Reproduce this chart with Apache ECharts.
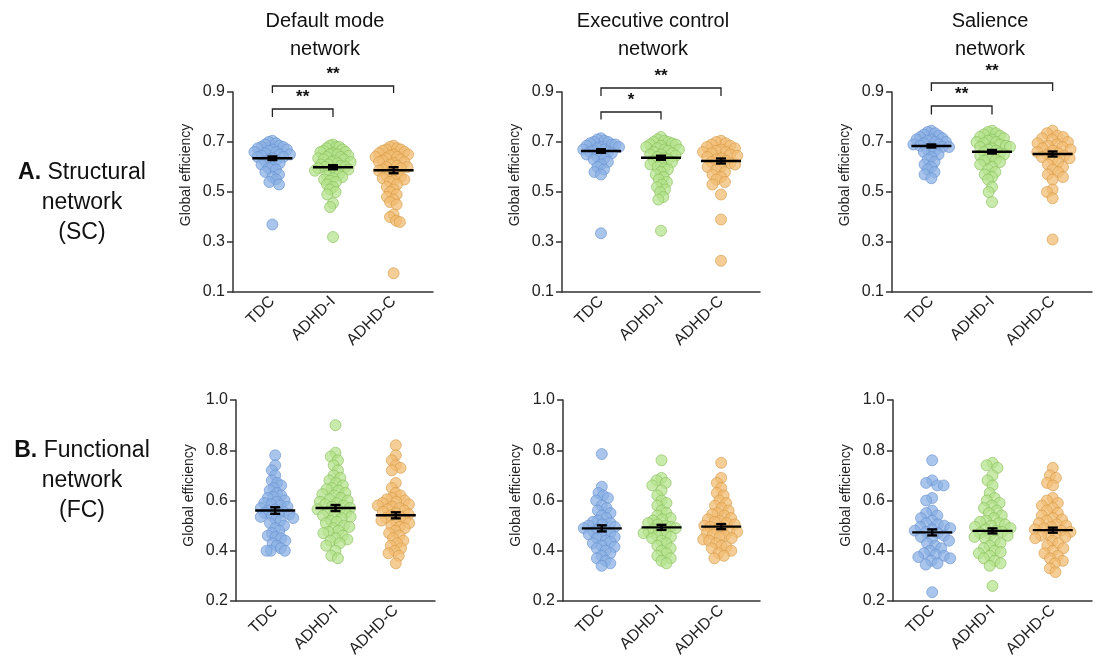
<!DOCTYPE html>
<html>
<head>
<meta charset="utf-8">
<script src="https://cdn.jsdelivr.net/npm/echarts@6/dist/echarts.min.js"></script>
<style>html,body{margin:0;padding:0;background:#fff}#c{width:1101px;height:662px}</style>
</head>
<body>
<div id="c"></div>
<script>
// ---------------- DATA ----------------
const categories = ['TDC', 'ADHD-I', 'ADHD-C'];
const networkTitles = ['Default mode\nnetwork', 'Executive control\nnetwork', 'Salience\nnetwork'];
const topTicks = [0.1, 0.3, 0.5, 0.7, 0.9];
const bottomTicks = [0.2, 0.4, 0.6, 0.8, 1.0];

// Structural (SC)
const dmnSC_TDC = [0.705,0.70,0.695,0.69,0.685,0.68,0.68,0.675,0.67,0.67,0.665,0.66,0.66,0.655,0.65,0.65,0.645,0.64,0.64,0.635,0.63,0.625,0.62,0.615,0.61,0.60,0.595,0.59,0.58,0.57,0.56,0.55,0.54,0.53,0.37];
const dmnSC_I = [0.69,0.685,0.68,0.68,0.675,0.67,0.665,0.66,0.66,0.655,0.65,0.65,0.645,0.64,0.64,0.635,0.63,0.63,0.625,0.62,0.62,0.615,0.61,0.61,0.605,0.60,0.60,0.595,0.59,0.59,0.585,0.58,0.575,0.57,0.565,0.56,0.555,0.55,0.545,0.54,0.53,0.52,0.51,0.50,0.49,0.455,0.44,0.32];
const dmnSC_C = [0.685,0.68,0.675,0.67,0.67,0.665,0.66,0.655,0.65,0.65,0.645,0.64,0.64,0.635,0.63,0.625,0.62,0.62,0.615,0.61,0.605,0.60,0.60,0.595,0.59,0.585,0.58,0.575,0.57,0.565,0.56,0.555,0.55,0.545,0.54,0.53,0.52,0.51,0.50,0.49,0.48,0.47,0.46,0.45,0.41,0.40,0.385,0.38,0.175];
const ecnSC_TDC = [0.715,0.71,0.705,0.70,0.70,0.695,0.69,0.69,0.685,0.68,0.68,0.675,0.67,0.67,0.665,0.66,0.66,0.655,0.65,0.645,0.64,0.635,0.63,0.62,0.61,0.60,0.59,0.58,0.57,0.335];
const ecnSC_I = [0.72,0.71,0.705,0.70,0.70,0.695,0.69,0.69,0.685,0.68,0.675,0.67,0.67,0.665,0.66,0.655,0.65,0.65,0.645,0.64,0.635,0.63,0.625,0.62,0.615,0.61,0.60,0.595,0.59,0.58,0.57,0.56,0.55,0.54,0.53,0.52,0.51,0.50,0.48,0.47,0.345];
const ecnSC_C = [0.705,0.70,0.695,0.69,0.685,0.68,0.675,0.67,0.665,0.66,0.66,0.655,0.65,0.645,0.64,0.635,0.63,0.625,0.62,0.615,0.61,0.60,0.60,0.59,0.58,0.57,0.56,0.55,0.54,0.53,0.49,0.39,0.225];
const snSC_TDC = [0.745,0.74,0.735,0.73,0.725,0.72,0.715,0.71,0.71,0.705,0.70,0.70,0.695,0.69,0.69,0.685,0.68,0.68,0.675,0.67,0.665,0.66,0.65,0.64,0.63,0.62,0.61,0.60,0.59,0.58,0.57,0.555];
const snSC_I = [0.745,0.74,0.735,0.73,0.725,0.72,0.715,0.71,0.705,0.70,0.70,0.695,0.69,0.685,0.68,0.68,0.675,0.67,0.665,0.66,0.655,0.65,0.645,0.64,0.635,0.63,0.625,0.62,0.61,0.60,0.59,0.58,0.57,0.56,0.55,0.52,0.50,0.46];
const snSC_C = [0.745,0.735,0.725,0.72,0.715,0.71,0.70,0.695,0.69,0.685,0.68,0.675,0.67,0.665,0.66,0.655,0.65,0.645,0.64,0.635,0.63,0.62,0.61,0.60,0.59,0.58,0.57,0.56,0.55,0.51,0.50,0.475,0.31];

// Functional (FC)
const dmnFC_TDC = [0.78,0.74,0.72,0.70,0.68,0.67,0.66,0.65,0.64,0.63,0.62,0.615,0.61,0.60,0.595,0.59,0.585,0.58,0.575,0.57,0.565,0.56,0.555,0.55,0.55,0.545,0.54,0.535,0.53,0.525,0.52,0.51,0.50,0.49,0.48,0.47,0.46,0.455,0.45,0.44,0.43,0.42,0.41,0.40,0.40,0.40];
const dmnFC_I = [0.90,0.79,0.775,0.76,0.74,0.72,0.70,0.69,0.68,0.67,0.66,0.65,0.645,0.64,0.63,0.625,0.62,0.61,0.605,0.60,0.595,0.59,0.585,0.58,0.575,0.57,0.565,0.56,0.555,0.55,0.545,0.54,0.535,0.53,0.52,0.515,0.51,0.50,0.495,0.49,0.48,0.475,0.47,0.46,0.45,0.445,0.44,0.43,0.42,0.40,0.38,0.37];
const dmnFC_C = [0.82,0.78,0.76,0.74,0.73,0.72,0.67,0.65,0.63,0.62,0.61,0.605,0.60,0.595,0.59,0.585,0.58,0.575,0.57,0.565,0.56,0.555,0.55,0.545,0.54,0.535,0.53,0.525,0.52,0.515,0.51,0.50,0.495,0.49,0.48,0.47,0.46,0.45,0.44,0.43,0.42,0.41,0.40,0.39,0.38,0.35];
const ecnFC_TDC = [0.785,0.655,0.63,0.62,0.61,0.60,0.58,0.57,0.56,0.55,0.54,0.53,0.52,0.515,0.51,0.505,0.50,0.495,0.49,0.485,0.48,0.475,0.47,0.465,0.46,0.455,0.45,0.44,0.435,0.43,0.42,0.415,0.41,0.40,0.39,0.38,0.37,0.36,0.35,0.34];
const ecnFC_I = [0.76,0.69,0.68,0.67,0.66,0.64,0.62,0.60,0.59,0.58,0.56,0.55,0.54,0.53,0.525,0.52,0.51,0.505,0.50,0.495,0.49,0.485,0.48,0.475,0.47,0.465,0.46,0.455,0.45,0.44,0.43,0.42,0.41,0.40,0.39,0.38,0.37,0.36,0.35];
const ecnFC_C = [0.75,0.69,0.67,0.65,0.63,0.62,0.60,0.59,0.58,0.57,0.56,0.55,0.545,0.54,0.53,0.525,0.52,0.515,0.51,0.505,0.50,0.495,0.49,0.485,0.48,0.475,0.47,0.465,0.46,0.455,0.45,0.445,0.44,0.43,0.42,0.415,0.41,0.40,0.39,0.38,0.37];
const snFC_TDC = [0.76,0.68,0.67,0.66,0.66,0.61,0.60,0.56,0.55,0.54,0.53,0.52,0.51,0.505,0.50,0.495,0.49,0.485,0.48,0.475,0.47,0.46,0.455,0.45,0.44,0.43,0.42,0.41,0.40,0.39,0.385,0.38,0.375,0.37,0.36,0.35,0.345,0.235];
const snFC_I = [0.75,0.74,0.73,0.70,0.68,0.66,0.63,0.61,0.60,0.59,0.58,0.57,0.56,0.55,0.54,0.53,0.52,0.515,0.51,0.505,0.50,0.495,0.49,0.485,0.48,0.475,0.47,0.465,0.46,0.455,0.45,0.44,0.43,0.42,0.41,0.40,0.395,0.39,0.38,0.37,0.36,0.35,0.34,0.26];
const snFC_C = [0.73,0.70,0.69,0.67,0.66,0.61,0.60,0.59,0.58,0.57,0.56,0.55,0.54,0.53,0.525,0.52,0.51,0.505,0.50,0.495,0.49,0.485,0.48,0.475,0.47,0.465,0.46,0.455,0.45,0.44,0.43,0.42,0.41,0.40,0.39,0.38,0.37,0.36,0.35,0.33,0.315];

// Means and SEM per panel (TDC, ADHD-I, ADHD-C)
const dmnSC_mean = [0.635, 0.599, 0.587], dmnSC_sem = [0.007, 0.008, 0.012];
const ecnSC_mean = [0.664, 0.637, 0.624], ecnSC_sem = [0.007, 0.008, 0.010];
const snSC_mean  = [0.684, 0.661, 0.652], snSC_sem  = [0.006, 0.007, 0.010];
const dmnFC_mean = [0.560, 0.570, 0.541], dmnFC_sem = [0.013, 0.012, 0.012];
const ecnFC_mean = [0.489, 0.493, 0.496], ecnFC_sem = [0.012, 0.010, 0.010];
const snFC_mean  = [0.473, 0.479, 0.482], snFC_sem  = [0.012, 0.010, 0.010];

// Significance brackets (top row): [fromCat, toCat, barValue, legValue, label]
const dmnSC_sig = [[1, 2, 0.832, 0.800, '**'], [1, 3, 0.924, 0.896, '**']];
const ecnSC_sig = [[1, 2, 0.820, 0.790, '*'],  [1, 3, 0.916, 0.884, '**']];
const snSC_sig  = [[1, 2, 0.844, 0.810, '**'], [1, 3, 0.936, 0.904, '**']];

// ---------------- LAYOUT / STYLE ----------------
const panels = [
  {groups: [dmnSC_TDC, dmnSC_I, dmnSC_C], mean: dmnSC_mean, sem: dmnSC_sem, sig: dmnSC_sig, ticks: topTicks, grid: {left: 233, top: 92, width: 200, height: 200}},
  {groups: [ecnSC_TDC, ecnSC_I, ecnSC_C], mean: ecnSC_mean, sem: ecnSC_sem, sig: ecnSC_sig, ticks: topTicks, grid: {left: 562, top: 92, width: 198, height: 200}},
  {groups: [snSC_TDC, snSC_I, snSC_C], mean: snSC_mean, sem: snSC_sem, sig: snSC_sig, ticks: topTicks, grid: {left: 892, top: 92, width: 200, height: 200}},
  {groups: [dmnFC_TDC, dmnFC_I, dmnFC_C], mean: dmnFC_mean, sem: dmnFC_sem, sig: [], ticks: bottomTicks, grid: {left: 236, top: 400, width: 199, height: 201}},
  {groups: [ecnFC_TDC, ecnFC_I, ecnFC_C], mean: ecnFC_mean, sem: ecnFC_sem, sig: [], ticks: bottomTicks, grid: {left: 563, top: 400, width: 197, height: 201}},
  {groups: [snFC_TDC, snFC_I, snFC_C], mean: snFC_mean, sem: snFC_sem, sig: [], ticks: bottomTicks, grid: {left: 893, top: 400, width: 199, height: 201}}
];
const fills = ['rgba(139,176,228,0.92)', 'rgba(181,226,140,0.92)', 'rgba(241,188,114,0.92)'];
const borders = ['#6a92cf', '#89bf5c', '#d69a48'];
const FONT = '"Liberation Sans", Arial, sans-serif';
const axisColor = '#333';

const chart = echarts.init(document.getElementById('c'), null, {renderer: 'canvas'});

const grids = [], xAxes = [], yAxes = [];
panels.forEach((p, i) => {
  const isTop = i < 3;
  grids.push(Object.assign({containLabel: false}, p.grid));
  xAxes.push({
    type: 'value', gridIndex: i, min: 0.35, max: 3.65,
    splitLine: {show: false},
    axisLine: {show: true, onZero: false, lineStyle: {color: axisColor, width: 1.5}},
    axisTick: {show: false},
    axisLabel: {
      show: true, customValues: [1, 2, 3], rotate: 45, margin: 7,
      fontFamily: FONT, fontSize: 16, color: '#222',
      formatter: v => categories[Math.round(v) - 1] || ''
    }
  });
  yAxes.push({
    type: 'value', gridIndex: i, min: p.ticks[0], max: p.ticks[p.ticks.length - 1],
    name: 'Global efficiency', nameLocation: 'middle', nameGap: 40,
    nameTextStyle: {fontFamily: FONT, fontSize: 14, color: '#222', padding: isTop ? [0, 0, 0, 34] : [0, 0, 0, 10]},
    splitLine: {show: false},
    axisLine: {show: true, lineStyle: {color: axisColor, width: 1.5}},
    axisTick: {show: true, customValues: p.ticks, length: 6, lineStyle: {color: axisColor, width: 1.5}},
    axisLabel: {show: true, customValues: p.ticks, margin: 8, fontFamily: FONT, fontSize: 16, color: '#222',
      formatter: v => Number(v).toFixed(1)}
  });
});

const titles = [];
const titleCenters = [320, 648, 985];
networkTitles.forEach((t, i) => {
  titles.push({text: t, left: titleCenters[i], top: 2, textAlign: 'center',
    textStyle: {fontFamily: FONT, fontSize: 20, fontWeight: 'normal', color: '#111', lineHeight: 28}});
});
const rowLabelStyle = {
  fontFamily: FONT, fontSize: 23, fontWeight: 'normal', color: '#111', lineHeight: 30, align: 'center',
  rich: {b: {fontFamily: FONT, fontSize: 23, fontWeight: 'bold', color: '#111', lineHeight: 30}}
};
titles.push({text: '{b|A.} Structural\nnetwork\n(SC)', left: 77, top: 153, textAlign: 'center', textStyle: rowLabelStyle});
titles.push({text: '{b|B.} Functional\nnetwork\n(FC)', left: 77, top: 431, textAlign: 'center', textStyle: rowLabelStyle});

chart.setOption({
  animation: false,
  backgroundColor: '#fff',
  title: titles,
  grid: grids, xAxis: xAxes, yAxis: yAxes,
  series: []
});

// Beeswarm layout in pixel space, using the library's own scales
function swarm(values, pxPerY, minDist, maxHalf) {
  const order = values.map((v, i) => i).sort((a, b) => values[b] - values[a]);
  const placed = [];
  const off = new Array(values.length);
  order.forEach(i => {
    const y = values[i] * pxPerY;
    const iv = [];
    placed.forEach(p => {
      const dy = Math.abs(p.y - y);
      if (dy < minDist) {
        const dx = Math.sqrt(minDist * minDist - dy * dy);
        iv.push([p.x - dx, p.x + dx]);
      }
    });
    const cands = [0];
    iv.forEach(a => cands.push(a[0], a[1]));
    cands.sort((a, b) => Math.abs(a) - Math.abs(b));
    let x = 0;
    for (const c of cands) {
      if (!iv.some(a => c > a[0] + 1e-6 && c < a[1] - 1e-6)) { x = c; break; }
    }
    placed.push({x, y});
    off[i] = x;
  });
  const m = Math.max(...off.map(Math.abs));
  const k = m > maxHalf ? maxHalf / m : 1;
  return off.map(o => o * k);
}

const series = [];
panels.forEach((p, gi) => {
  const a = chart.convertToPixel({gridIndex: gi}, [1, p.ticks[0]]);
  const b = chart.convertToPixel({gridIndex: gi}, [2, p.ticks[p.ticks.length - 1]]);
  const pxPerX = Math.abs(b[0] - a[0]);
  const pxPerY = Math.abs(b[1] - a[1]) / (p.ticks[p.ticks.length - 1] - p.ticks[0]);
  p.groups.forEach((vals, k) => {
    const off = swarm(vals, pxPerY, 8.5, 18);
    series.push({
      type: 'scatter', xAxisIndex: gi, yAxisIndex: gi, symbolSize: 11, z: 2,
      itemStyle: {color: fills[k], borderColor: borders[k], borderWidth: 0.8},
      data: vals.map((v, j) => [k + 1 + off[j] / pxPerX, v])
    });
  });
  series.push({
    type: 'custom', xAxisIndex: gi, yAxisIndex: gi, z: 5,
    data: p.mean.map((m, k) => [k + 1, m, p.sem[k]]),
    renderItem: (params, api) => {
      const x = api.value(0), m = api.value(1), s = api.value(2);
      const c = api.coord([x, m]), t = api.coord([x, m + s]), bt = api.coord([x, m - s]);
      const st = {stroke: '#000', lineWidth: 2.4};
      return {type: 'group', children: [
        {type: 'line', shape: {x1: c[0] - 20, y1: c[1], x2: c[0] + 20, y2: c[1]}, style: st},
        {type: 'line', shape: {x1: t[0], y1: t[1], x2: bt[0], y2: bt[1]}, style: st},
        {type: 'line', shape: {x1: t[0] - 5, y1: t[1], x2: t[0] + 5, y2: t[1]}, style: st},
        {type: 'line', shape: {x1: bt[0] - 5, y1: bt[1], x2: bt[0] + 5, y2: bt[1]}, style: st}
      ]};
    }
  });
  if (p.sig.length) {
    series.push({
      type: 'custom', xAxisIndex: gi, yAxisIndex: gi, z: 5, clip: false,
      data: p.sig.map(s => [s[0], s[1], s[2], s[3]]),
      renderItem: (params, api) => {
        const x1 = api.value(0), x2 = api.value(1), yb = api.value(2), yl = api.value(3);
        const p1 = api.coord([x1, yl]), p2 = api.coord([x1, yb]), p3 = api.coord([x2, yb]), p4 = api.coord([x2, yl]);
        const label = p.sig[params.dataIndex][4];
        return {type: 'group', children: [
          {type: 'polyline', shape: {points: [p1, p2, p3, p4]}, style: {stroke: '#222', lineWidth: 1.3, fill: null}},
          {type: 'text', x: (p2[0] + p3[0]) / 2, y: p2[1] - 3,
            style: {text: label, fill: '#111', font: 'bold 17px ' + FONT, textAlign: 'center', textVerticalAlign: 'bottom'}}
        ]};
      }
    });
  }
});

chart.setOption({series: series});
</script>
</body>
</html>
